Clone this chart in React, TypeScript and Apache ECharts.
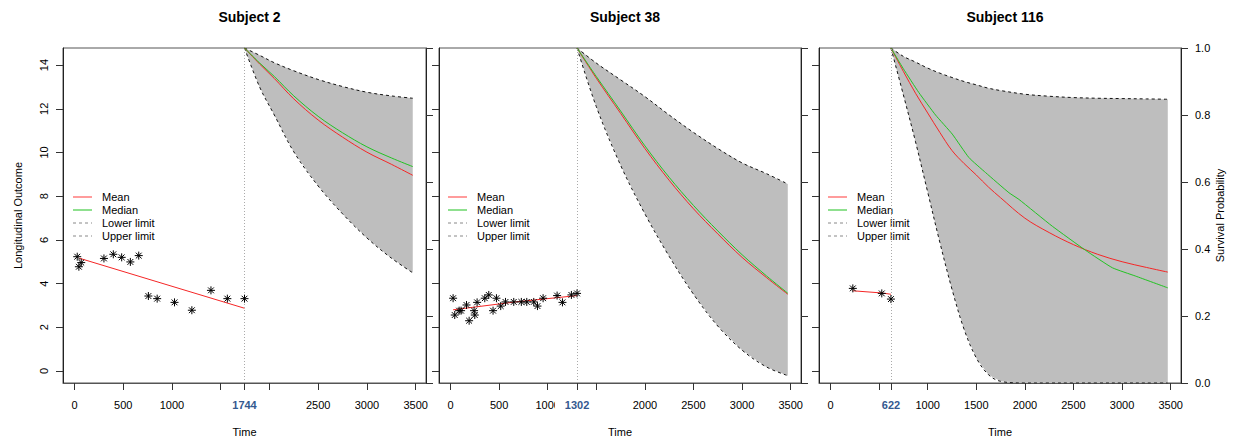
import React, { useEffect, useRef } from "react";
import * as echarts from "echarts";

const FONT = "'Liberation Sans', Arial, Helvetica, sans-serif";

const subjectTitles = ["Subject 2", "Subject 38", "Subject 116"];
const lastTimes = [1744, 1302, 622];

// Observed longitudinal measurements
const obsTime1 = [28, 45, 69, 302, 398, 484, 573, 659, 758, 848, 1026, 1204, 1400, 1568, 1744];
const obsValue1 = [5.23, 4.77, 4.96, 5.15, 5.34, 5.2, 4.99, 5.28, 3.43, 3.31, 3.14, 2.78, 3.69, 3.31, 3.31];
const obsTime2 = [27, 44, 89, 109, 165, 192, 243, 250, 274, 353, 394, 438, 473, 517, 566, 651, 729, 785, 857, 895, 953, 1097, 1152, 1244, 1302];
const obsValue2 = [3.33, 2.56, 2.76, 2.76, 3.02, 2.3, 2.76, 2.56, 3.14, 3.33, 3.48, 2.76, 3.33, 2.97, 3.16, 3.16, 3.16, 3.16, 3.16, 2.97, 3.33, 3.45, 3.14, 3.48, 3.55];
const obsTime3 = [230, 528, 622];
const obsValue3 = [3.78, 3.55, 3.29];

// Fitted longitudinal trajectory
const fitTime1 = [50, 1744];
const fitValue1 = [5.16, 2.87];
const fitTime2 = [27, 650, 1302];
const fitValue2 = [2.8, 3.15, 3.45];
const fitTime3 = [230, 528, 622];
const fitValue3 = [3.67, 3.57, 3.51];

// Survival predictions
const survTime1 = [1744, 1900, 2050, 2250, 2500, 2750, 3000, 3250, 3470];
const mean1 = [1, 0.952, 0.909, 0.848, 0.785, 0.734, 0.689, 0.653, 0.62];
const median1 = [1, 0.955, 0.915, 0.857, 0.796, 0.747, 0.705, 0.672, 0.646];
const lower1 = [1, 0.883, 0.8, 0.69, 0.588, 0.505, 0.433, 0.373, 0.329];
const upper1 = [1, 0.978, 0.956, 0.932, 0.906, 0.885, 0.868, 0.857, 0.85];

const survTime2 = [1302, 1500, 1750, 2000, 2250, 2500, 2750, 3000, 3250, 3470];
const mean2 = [1, 0.91, 0.805, 0.7, 0.605, 0.52, 0.445, 0.375, 0.315, 0.265];
const median2 = [1, 0.915, 0.812, 0.708, 0.614, 0.53, 0.454, 0.383, 0.32, 0.268];
const lower2 = [1, 0.825, 0.65, 0.505, 0.378, 0.265, 0.17, 0.098, 0.048, 0.022];
const upper2 = [1, 0.955, 0.905, 0.855, 0.8, 0.748, 0.7, 0.657, 0.625, 0.594];

const survTime3 = [622, 750, 875, 1000, 1125, 1250, 1375, 1500, 1625, 1750, 2000, 2250, 2500, 2750, 3000, 3250, 3470];
const mean3 = [1, 0.93, 0.865, 0.806, 0.748, 0.694, 0.655, 0.621, 0.585, 0.553, 0.492, 0.449, 0.413, 0.384, 0.362, 0.345, 0.331];
const lower3 = [1, 0.86, 0.72, 0.57, 0.42, 0.28, 0.16, 0.075, 0.025, 0.005, 0, 0, 0, 0, 0, 0, 0];
const upper3 = [1, 0.975, 0.958, 0.94, 0.925, 0.912, 0.9, 0.89, 0.88, 0.873, 0.862, 0.856, 0.852, 0.85, 0.849, 0.848, 0.847];
const medianTime3 = [622, 750, 909, 1081, 1253, 1424, 1596, 1836, 1939, 2282, 2625, 2900, 3140, 3470];
const median3 = [1, 0.938, 0.867, 0.8, 0.743, 0.673, 0.628, 0.568, 0.548, 0.468, 0.396, 0.344, 0.319, 0.284];

// Axis ticks / labels
const xTicks1 = [0, 500, 1000, 1500, 1744, 2000, 2500, 3000, 3500];
const xLabels1 = [0, 500, 1000, 1744, 2500, 3000, 3500];
const xTicks2 = [0, 500, 1000, 1302, 1500, 2000, 2500, 3000, 3500];
const xLabels2 = [0, 500, 1000, 1302, 2000, 2500, 3000, 3500];
const xTicks3 = [0, 500, 622, 1000, 1500, 2000, 2500, 3000, 3500];
const xLabels3 = [0, 622, 1000, 1500, 2000, 2500, 3000, 3500];
const yTicksLong = [0, 2, 4, 6, 8, 10, 12, 14];
const legendNames = ["Mean", "Median", "Lower limit", "Upper limit"];

const zip = (a: number[], b: number[]) => a.map((t, k) => [t, b[k]]);

const panels = [
  { obsT: obsTime1, obsV: obsValue1, fitT: fitTime1, fitV: fitValue1, sT: survTime1, mean: mean1, medT: survTime1, median: median1, lower: lower1, upper: upper1, xTicks: xTicks1, xLabels: xLabels1 },
  { obsT: obsTime2, obsV: obsValue2, fitT: fitTime2, fitV: fitValue2, sT: survTime2, mean: mean2, medT: survTime2, median: median2, lower: lower2, upper: upper2, xTicks: xTicks2, xLabels: xLabels2 },
  { obsT: obsTime3, obsV: obsValue3, fitT: fitTime3, fitV: fitValue3, sT: survTime3, mean: mean3, medT: medianTime3, median: median3, lower: lower3, upper: upper3, xTicks: xTicks3, xLabels: xLabels3 },
];

const gridLeft = [63, 439, 819];
const gridWidth = [363, 362, 362];
const legendLeft = [73, 448, 828];

const RED = "#f52626";
const GREEN = "#22c322";

function starRender(params: any, api: any) {
  const c = api.coord([api.value(0), api.value(1)]);
  const r = 4;
  const d = 2.9;
  const st = { stroke: "#000", lineWidth: 1 };
  return {
    type: "group",
    children: [
      { type: "line", shape: { x1: c[0] - r, y1: c[1], x2: c[0] + r, y2: c[1] }, style: st },
      { type: "line", shape: { x1: c[0], y1: c[1] - r, x2: c[0], y2: c[1] + r }, style: st },
      { type: "line", shape: { x1: c[0] - d, y1: c[1] - d, x2: c[0] + d, y2: c[1] + d }, style: st },
      { type: "line", shape: { x1: c[0] - d, y1: c[1] + d, x2: c[0] + d, y2: c[1] - d }, style: st },
    ],
  };
}

export default function App() {
  const ref = useRef<HTMLDivElement>(null);

  useEffect(() => {
    document.body.style.margin = "0";
    if (!ref.current) return;
    const chart = echarts.init(ref.current, undefined, { renderer: "svg" });

    const grid = panels.map((_, i) => ({
      left: gridLeft[i],
      top: 48,
      width: gridWidth[i],
      height: 335,
      show: true,
      borderColor: "#555",
      borderWidth: 1,
      backgroundColor: "transparent",
      containLabel: false,
      outerBoundsMode: "none",
    }));

    const xAxis = panels.map((p, i) => ({
      type: "value",
      gridIndex: i,
      min: -118,
      max: 3606,
      name: "Time",
      nameLocation: "middle",
      nameGap: 43,
      nameTextStyle: { fontSize: 11, color: "#000", fontFamily: FONT },
      axisLine: { show: true, onZero: false, lineStyle: { color: "#555" } },
      axisTick: { show: true, length: 7, lineStyle: { color: "#333" }, customValues: p.xTicks },
      axisLabel: {
        show: true,
        margin: 16,
        fontSize: 11,
        color: "#000",
        fontFamily: FONT,
        customValues: p.xLabels,
        formatter: (v: number) => (v === lastTimes[i] ? `{hl|${v}}` : `{n|${v}}`),
        rich: {
          hl: { color: "#34598f", fontWeight: "bold", fontSize: 11, fontFamily: FONT },
          n: { color: "#000", fontWeight: "normal", fontSize: 11, fontFamily: FONT },
        },
      },
      splitLine: { show: false },
    }));

    const yAxis: any[] = [];
    panels.forEach((_, i) => {
      yAxis.push({
        type: "value",
        gridIndex: i,
        position: "left",
        min: -0.55,
        max: 14.78,
        name: i === 0 ? "Longitudinal Outcome" : "",
        nameLocation: "middle",
        nameRotate: 90,
        nameGap: 40,
        nameTextStyle: { fontSize: 11, color: "#000", fontFamily: FONT },
        axisLine: { show: true, onZero: false, lineStyle: { color: "#222" } },
        axisTick: { show: true, length: 7, lineStyle: { color: "#333" }, customValues: yTicksLong },
        axisLabel: {
          show: i === 0,
          rotate: 90,
          margin: 14,
          fontSize: 11,
          color: "#000",
          fontFamily: FONT,
          customValues: yTicksLong,
        },
        splitLine: { show: false },
      });
      yAxis.push({
        type: "value",
        gridIndex: i,
        position: "right",
        min: 0,
        max: 1,
        interval: 0.2,
        name: i === 2 ? "Survival Probability" : "",
        nameLocation: "middle",
        nameRotate: 90,
        nameGap: 16,
        nameTextStyle: { fontSize: 11, color: "#000", fontFamily: FONT },
        axisLine: { show: true, onZero: false, lineStyle: { color: "#222" } },
        axisTick: { show: true, length: 7, lineStyle: { color: "#333" } },
        axisLabel: {
          show: i === 2,
          margin: 14,
          fontSize: 11,
          color: "#000",
          fontFamily: FONT,
          formatter: (v: number) => v.toFixed(1),
        },
        splitLine: { show: false },
      });
    });

    const series: any[] = [];
    panels.forEach((p, i) => {
      const lx = i;
      const ly = 2 * i;
      const sy = 2 * i + 1;
      const SM = 0.35;
      series.push({
        type: "custom",
        name: "band-" + i,
        xAxisIndex: lx,
        yAxisIndex: sy,
        silent: true,
        data: [[p.sT[0], p.upper[0]]],
        renderItem: (params: any, api: any) => {
          const top = p.sT.map((t, k) => api.coord([t, p.upper[k]]));
          const bottom = p.sT.map((t, k) => api.coord([t, p.lower[k]])).reverse();
          return {
            type: "polygon",
            shape: { points: top.concat(bottom) },
            style: { fill: "#bebebe", stroke: "none" },
          };
        },
      });
      series.push({
        type: "line",
        name: "Lower limit",
        xAxisIndex: lx,
        yAxisIndex: sy,
        data: zip(p.sT, p.lower),
        symbol: "none",
        smooth: SM,
        color: "#111",
        lineStyle: { color: "#111", width: 1, type: [3, 3] },
      });
      series.push({
        type: "line",
        name: "Upper limit",
        xAxisIndex: lx,
        yAxisIndex: sy,
        data: zip(p.sT, p.upper),
        symbol: "none",
        smooth: SM,
        color: "#111",
        lineStyle: { color: "#111", width: 1, type: [3, 3] },
      });
      series.push({
        type: "line",
        name: "Mean",
        xAxisIndex: lx,
        yAxisIndex: sy,
        data: zip(p.sT, p.mean),
        symbol: "none",
        smooth: SM,
        color: RED,
        lineStyle: { color: RED, width: 1 },
      });
      series.push({
        type: "line",
        name: "Median",
        xAxisIndex: lx,
        yAxisIndex: sy,
        data: zip(p.medT, p.median),
        symbol: "none",
        smooth: i === 2 ? 0.15 : SM,
        color: GREEN,
        lineStyle: { color: GREEN, width: 1 },
      });
      series.push({
        type: "line",
        name: "fit-" + i,
        xAxisIndex: lx,
        yAxisIndex: ly,
        data: zip(p.fitT, p.fitV),
        symbol: "none",
        color: RED,
        lineStyle: { color: RED, width: 1 },
        markLine: {
          silent: true,
          symbol: ["none", "none"],
          label: { show: false },
          lineStyle: { color: "#aaa", type: [1, 2], width: 1 },
          data: [{ xAxis: lastTimes[i] }],
        },
      });
      series.push({
        type: "custom",
        name: "obs-" + i,
        xAxisIndex: lx,
        yAxisIndex: ly,
        data: zip(p.obsT, p.obsV),
        renderItem: starRender,
        silent: true,
        z: 5,
      });
    });

    const title = panels.map((_, i) => ({
      text: subjectTitles[i],
      left: gridLeft[i] + gridWidth[i] / 2,
      top: 5,
      textAlign: "center",
      textStyle: { fontSize: 14, fontWeight: "bold", color: "#000", fontFamily: FONT },
    }));

    chart.setOption({
      animation: false,
      backgroundColor: "#fff",
      textStyle: { fontFamily: FONT },
      title,
      grid,
      xAxis,
      yAxis,
      series,
    });

    // legend drawn as graphic rows
    const legendStyles = [
      { stroke: "#ff9c9c", lineWidth: 2, lineDash: null as any },
      { stroke: "#8fe08f", lineWidth: 2, lineDash: null as any },
      { stroke: "#888", lineWidth: 1, lineDash: [3, 3] },
      { stroke: "#888", lineWidth: 1, lineDash: [3, 3] },
    ];
    const graphics: any[] = [];
    panels.forEach((_, i) => {
      legendNames.forEach((nm, k) => {
        const y = 197 + 13 * k;
        const x0 = legendLeft[i];
        const ls = legendStyles[k];
        const style: any = { stroke: ls.stroke, lineWidth: ls.lineWidth };
        if (ls.lineDash) style.lineDash = ls.lineDash;
        graphics.push({ type: "line", silent: true, shape: { x1: x0, y1: y, x2: x0 + 19, y2: y }, style });
        graphics.push({
          type: "text",
          silent: true,
          x: x0 + 29,
          y,
          style: {
            text: nm,
            fontSize: 11,
            fontFamily: FONT,
            fill: "#000",
            verticalAlign: "middle",
            textVerticalAlign: "middle",
          },
        });
      });
    });
    lastTimes.forEach((t, i) => {
      const px = chart.convertToPixel({ xAxisIndex: i }, t) as number;
      graphics.push({
        type: "rect",
        shape: { x: px - 22, y: 396, width: 7, height: 17 },
        style: { fill: "#fff" },
        z: 100,
        silent: true,
      });
    });
    chart.setOption({ graphic: graphics });

    return () => chart.dispose();
  }, []);

  return <div ref={ref} style={{ width: 1233, height: 439 }} />;
}
